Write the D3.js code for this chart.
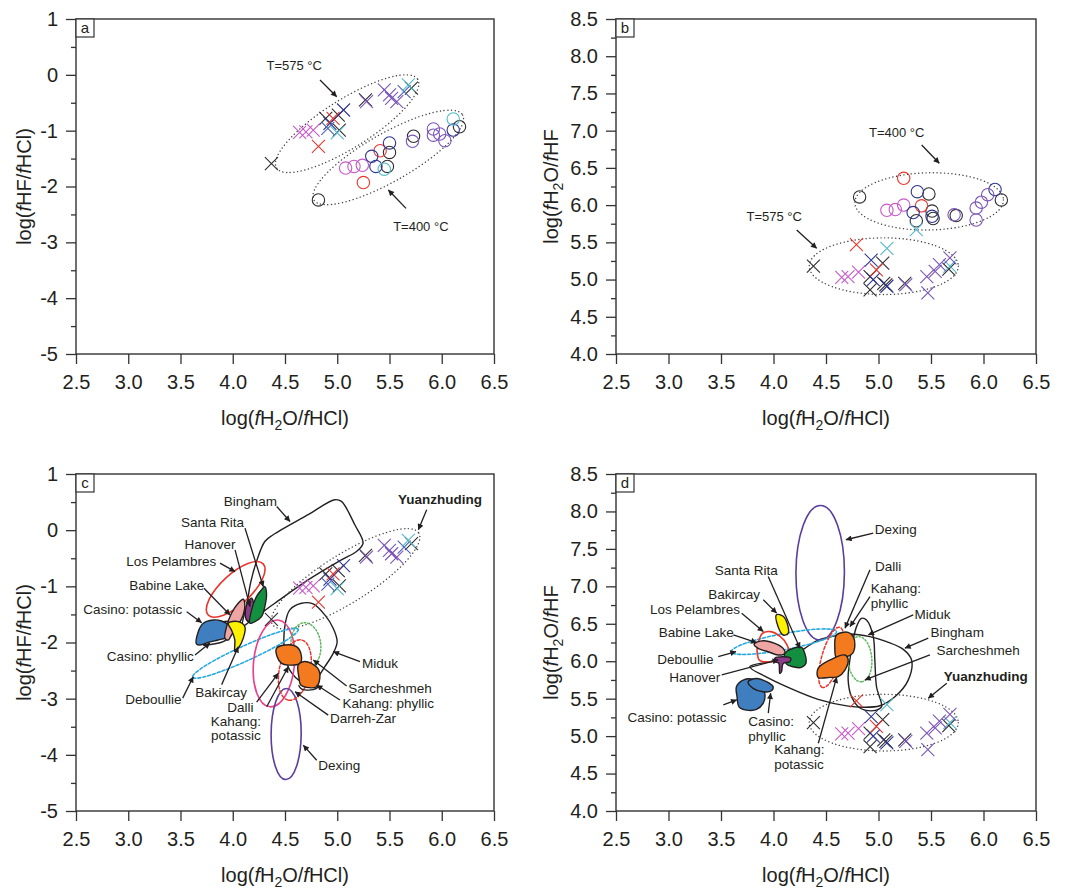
<!DOCTYPE html>
<html><head><meta charset="utf-8">
<script src="https://cdn.jsdelivr.net/npm/d3@7"></script>
<style>
body{margin:0;background:#fff;}
text{font-family:"Liberation Sans",Arial,sans-serif;}
</style></head>
<body>
<svg id="fig" width="1069" height="890"></svg>
<script>
// ---------- axis ticks ----------
const xTicks = [2.5,3.0,3.5,4.0,4.5,5.0,5.5,6.0,6.5];
const hfTicks = [-5,-4,-3,-2,-1,0,1];
const hfMinor = [-4.5,-3.5,-2.5,-1.5,-0.5,0.5];
const ohTicks = [4.0,4.5,5.0,5.5,6.0,6.5,7.0,7.5,8.0,8.5];
const ohMinor = [4.25,4.75,5.25,5.75,6.25,6.75,7.25,7.75,8.25];

// ---------- (a) log(fHF/fHCl) vs log(fH2O/fHCl) ----------
// crosses: T = 575 °C
const aCrossBlack   = [[4.37,-1.59],[4.89,-0.78],[5.02,-0.99],[5.01,-0.72],[5.27,-0.45],[5.71,-0.24]];
const aCrossNavy    = [[4.93,-0.87],[5.06,-0.63]];
const aCrossBlue    = [[4.91,-0.96],[5.64,-0.30]];
const aCrossRed     = [[4.82,-1.28],[4.96,-0.78]];
const aCrossMagenta = [[4.64,-1.03],[4.70,-1.02],[4.77,-0.99]];
const aCrossPurple  = [[5.28,-0.48],[5.45,-0.27],[5.50,-0.36],[5.52,-0.42],[5.57,-0.48]];
const aCrossCyan    = [[5.68,-0.18],[5.00,-1.04]];
// circles: T = 400 °C
const aCircBlack   = [[4.82,-2.24],[5.48,-1.64],[5.50,-1.39],[5.73,-1.10],[6.17,-0.93]];
const aCircMagenta = [[5.08,-1.67],[5.16,-1.64],[5.24,-1.62]];
const aCircRed     = [[5.25,-1.93],[5.41,-1.36]];
const aCircNavy    = [[5.33,-1.46],[5.37,-1.64],[5.50,-1.22],[6.11,-0.99]];
const aCircCyan    = [[5.45,-1.69],[6.11,-0.79]];
const aCircPurple  = [[5.72,-1.19],[5.92,-0.97],[5.92,-1.08],[5.98,-1.06],[6.03,-1.18]];

// ---------- (b) log(fH2O/fHF) vs log(fH2O/fHCl) ----------
const bCircBlack   = [[4.82,6.11],[5.36,5.79],[5.48,6.15],[5.51,5.92],[5.52,5.82],[5.74,5.86],[6.17,6.07]];
const bCircRed     = [[5.24,6.36],[5.41,5.99]];
const bCircMagenta = [[5.08,5.93],[5.16,5.94],[5.24,6.00]];
const bCircNavy    = [[5.33,5.90],[5.37,6.18],[5.51,5.85],[6.11,6.21]];
const bCircPurple  = [[5.72,5.87],[5.93,5.80],[5.93,5.96],[5.98,6.04],[6.04,6.14]];
const bCrossBlack   = [[4.38,5.18],[4.92,5.04],[4.92,4.86],[5.04,5.22],[5.05,4.95],[5.07,4.93],[5.25,4.95],[5.67,5.14]];
const bCrossRed     = [[4.79,5.47],[4.98,5.13]];
const bCrossCyan    = [[5.08,5.42],[5.68,5.18]];
const bCrossCyanHigh = [[5.36,5.67]];
const bCrossMagenta = [[4.65,5.03],[4.71,5.04],[4.81,5.10]];
const bCrossNavy    = [[4.93,5.26],[5.08,4.91],[4.95,5.00]];
const bCrossPurple  = [[5.26,4.93],[5.47,4.82],[5.46,5.04],[5.54,5.11],[5.58,5.20],[5.68,5.29]];

// ---------- fluid fields, (c) ----------
const cBingham = [[4.094,-1.706],[4.138,-1.301],[4.170,-0.944],[4.227,-0.558],[4.307,-0.201],[4.387,-0.082],[4.721,0.275],[4.976,0.542],[5.040,0.512],[5.168,0.096],[5.247,-0.231],[5.184,-0.380],[5.040,-0.528],[4.721,-0.885],[4.403,-1.301],[4.180,-1.599]];
const cMiduk = [[4.498,-2.193],[4.498,-1.718],[4.546,-1.420],[4.658,-1.301],[4.769,-1.313],[4.881,-1.509],[4.961,-1.747],[4.999,-1.985],[4.961,-2.193],[4.881,-2.431],[4.817,-2.609],[4.753,-2.728],[4.658,-2.699],[4.546,-2.491]];
const cCasinoPhyllic = [[3.718,-2.045],[3.813,-2.027],[3.909,-1.985],[3.988,-1.866],[4.004,-1.718],[3.972,-1.628],[3.877,-1.646],[3.781,-1.718],[3.718,-1.866]];
const cCasinoPotassic = [[3.654,-2.027],[3.670,-1.807],[3.718,-1.658],[3.813,-1.599],[3.893,-1.617],[3.957,-1.688],[3.972,-1.807],[3.941,-1.908],[3.861,-1.955],[3.765,-1.997],[3.686,-2.045]];
const cBabine = [[3.925,-1.926],[3.941,-1.718],[3.988,-1.480],[4.052,-1.301],[4.100,-1.230],[4.116,-1.331],[4.100,-1.509],[4.052,-1.688],[3.988,-1.866],[3.957,-1.955]];
const cHanover = [[4.132,-1.599],[4.122,-1.420],[4.148,-1.272],[4.180,-1.212],[4.202,-1.331],[4.196,-1.509],[4.164,-1.628]];
const cSantaRita = [[4.164,-1.658],[4.180,-1.420],[4.227,-1.182],[4.275,-1.063],[4.307,-1.004],[4.323,-1.123],[4.307,-1.361],[4.275,-1.539],[4.212,-1.628]];
const cBakircay = [[3.957,-1.658],[4.052,-1.628],[4.116,-1.718],[4.100,-1.926],[4.052,-2.104],[4.020,-2.163],[4.020,-1.955],[3.988,-1.777]];
const cOrangeUpper = [[4.419,-2.104],[4.498,-2.045],[4.610,-2.074],[4.658,-2.253],[4.642,-2.372],[4.530,-2.402],[4.467,-2.372],[4.425,-2.253]];
const cOrangeLower = [[4.626,-2.401],[4.674,-2.342],[4.753,-2.372],[4.824,-2.491],[4.833,-2.639],[4.801,-2.788],[4.706,-2.800],[4.651,-2.758],[4.632,-2.609]];
const cDarrehZar = [[4.63,-2.76],[4.66,-2.83],[4.77,-2.84],[4.82,-2.79]];
// elliptical fields: two ends of the long axis, and minor/major ratio
const cYuanzhuding = {a:[4.38,-1.68], b:[5.78,-0.05], r:0.28};
const cLosPelambres = {a:[3.765,-1.509], b:[4.291,-0.60], r:0.40};
const cDeboullie = {a:[3.616,-2.62], b:[4.626,-1.765], r:0.13};
const cMagentaField = {a:[4.435,-1.599], b:[4.355,-3.145], r:0.47};
const cGreenDotted = {a:[4.68,-1.65], b:[4.72,-2.45], r:0.66};
const cRedDashed = {a:[4.658,-1.955], b:[4.53,-3.026], r:0.50};
const cDexing = {a:[4.514,-2.818], b:[4.508,-4.44], r:0.33};

// ---------- fluid fields, (d) ----------
const dBingham = [[3.774,5.926],[3.965,5.993],[4.187,6.060],[4.298,6.172],[4.425,6.283],[4.552,6.328],[4.727,6.364],[4.918,6.328],[5.077,6.261],[5.236,6.158],[5.315,6.016],[5.283,5.748],[5.156,5.525],[5.013,5.405],[4.85,5.385],[4.711,5.40],[4.425,5.49],[4.139,5.65],[3.917,5.80]];
const dMiduk = [[4.791,6.462],[4.838,6.573],[4.886,6.551],[4.950,6.328],[4.965,6.016],[4.981,5.659],[5.029,5.391],[4.981,5.347],[4.870,5.347],[4.807,5.391],[4.743,5.525],[4.711,5.748],[4.727,6.016]];
const dLosPelambres = [[3.853,6.239],[3.895,6.372],[3.971,6.395],[4.066,6.328],[4.130,6.216],[4.149,6.083],[4.092,6.007],[3.965,5.993],[3.869,6.007],[3.844,6.127]];
const dBabine = [[3.815,6.230],[3.901,6.274],[4.012,6.239],[4.092,6.172],[4.108,6.105],[4.044,6.083],[3.949,6.127],[3.853,6.172]];
const dHanover = [[4.012,6.038],[4.092,6.060],[4.165,6.038],[4.155,5.993],[4.092,5.971],[4.076,5.859],[4.060,5.837],[4.050,5.971],[4.019,5.993]];
const dSantaRita = [[4.108,6.105],[4.187,6.172],[4.266,6.185],[4.298,6.105],[4.308,5.971],[4.266,5.917],[4.187,5.926],[4.124,5.962]];
const dBakircay = [[4.028,6.62],[4.092,6.60],[4.139,6.46],[4.139,6.37],[4.092,6.35],[4.044,6.46]];
const dCasinoPotassic = [[3.647,5.659],[3.711,5.748],[3.806,5.757],[3.869,5.681],[3.917,5.570],[3.901,5.436],[3.838,5.356],[3.742,5.347],[3.672,5.391],[3.653,5.525]];
const dCasinoPhyllic = [[3.758,5.726],[3.838,5.770],[3.933,5.726],[3.996,5.659],[3.981,5.605],[3.901,5.592],[3.806,5.637]];
const dOrangeUpper = [[4.600,6.350],[4.711,6.386],[4.759,6.328],[4.775,6.216],[4.753,6.105],[4.695,6.060],[4.600,6.047],[4.584,6.172]];
const dOrangeLower = [[4.425,5.904],[4.537,6.016],[4.680,6.083],[4.711,6.016],[4.680,5.882],[4.616,5.793],[4.537,5.784],[4.425,5.784]];
const dDexing = {a:[4.448,8.08], b:[4.441,6.283], r:0.36};
const dDeboullie = {a:[3.599,6.127], b:[4.600,6.395], r:0.15};
const dGreenDotted = {a:[4.807,6.328], b:[4.838,5.726], r:0.53};
const dRedDashed = {a:[4.632,6.453], b:[4.467,5.650], r:0.30};
const bT400 = {a:[4.775,6.03], b:[6.19,6.07], r:0.385};
const bT575 = {a:[4.34,5.18], b:[5.76,5.18], r:0.38};
const aT575 = {a:[4.42,-1.67], b:[5.77,-0.08], r:0.29};
const aT400 = {a:[4.776,-2.24], b:[6.20,-0.72], r:0.28};

// ---------- annotations: [text, x, y, arrow from x, y, to x, y, flags] ----------
const aNotes = [["T=575 °C",4.588,0.163,4.835,-0.093,4.995,-0.392],["T=400 °C",5.80,-2.72,5.658,-2.391,5.489,-2.063]];
const bNotes = [["T=400 °C",5.173,6.973,5.411,6.807,5.579,6.562],["T=575 °C",4.007,5.844,4.221,5.666,4.411,5.420]];
const cNotes = [
 ["Bingham",4.168,0.511,4.421,0.422,4.548,0.155],
 ["Santa Rita",3.806,0.137,4.117,0.037,4.292,-1.005],
 ["Hanover",3.782,-0.248,4.022,-0.350,4.165,-1.361],
 ["Los Pelambres",3.412,-0.559,3.878,-0.587,4.022,-0.737],
 ["Babine Lake",3.368,-0.987,3.725,-1.033,3.974,-1.509],
 ["Casino: potassic",3.043,-1.408,3.559,-1.451,3.703,-1.647],
 ["Casino: phyllic",3.210,-2.253,3.639,-2.223,3.782,-2.009],
 ["Deboullie",3.240,-3.008,3.521,-2.990,3.622,-2.610],
 ["Bakircay",3.888,-2.885,3.894,-2.750,4.053,-2.075],
 ["Dalli",4.072,-3.155,4.229,-3.060,4.436,-2.549],
 ["Kahang:\npotassic",4.03,-3.395,4.325,-3.145,4.532,-2.431],
 ["Miduk",5.409,-2.371,5.218,-2.342,4.962,-2.164],
 ["Sarcheshmeh",5.505,-2.817,5.090,-2.776,4.771,-2.312],
 ["Kahang: phyllic",5.489,-3.084,5.026,-3.025,4.803,-2.758],
 ["Darreh-Zar",5.246,-3.352,4.914,-3.293,4.596,-2.877],
 ["Dexing",5.019,-4.185,4.803,-4.096,4.675,-3.828],
 ["Yuanzhuding",5.983,0.542,5.856,0.363,5.776,0.007,"b"]
];
const dNotes = [
 ["Dexing",5.165,7.765,4.950,7.711,4.690,7.622],
 ["Santa Rita",3.740,7.208,3.950,7.131,4.252,6.174],
 ["Dalli",5.092,7.274,4.919,7.221,4.681,6.442],
 ["Kahang:\nphyllic",4.926,6.976,4.919,6.864,4.729,6.463,"s"],
 ["Bakircay",3.626,6.900,3.903,6.820,4.030,6.642],
 ["Los Pelambres",3.252,6.696,3.697,6.642,3.903,6.396],
 ["Miduk",5.514,6.629,5.331,6.619,4.903,6.352],
 ["Babine Lake",3.265,6.383,3.617,6.352,3.840,6.249],
 ["Bingham",5.750,6.383,5.474,6.308,5.252,6.174],
 ["Sarcheshmeh",5.948,6.142,5.490,6.085,4.871,5.751],
 ["Deboullie",3.160,6.027,3.474,6.062,3.643,6.129],
 ["Hanover",3.250,5.781,3.507,5.818,4.046,6.018],
 ["Yuanzhuding",6.022,5.804,5.650,5.707,5.474,5.506,"b"],
 ["Casino: potassic",3.081,5.252,3.522,5.417,3.650,5.483],
 ["Casino:\nphyllic",3.760,5.193,3.950,5.306,3.973,5.573,"s"],
 ["Kahang:\npotassic",4.008,4.824,4.427,4.905,4.602,5.787,"s"]
];

// ---------- styles ----------
const COL = {black:"#2d2d2d", navy:"#2f3590", blue:"#4d63b6", red:"#e8362c", magenta:"#c65ac9", purple:"#7b55b8", cyan:"#52b9cc"};
const INK = "#231f20";

const svg = d3.select("#fig");
svg.append("rect").attr("width",1069).attr("height",890).attr("fill","#fff");
svg.append("defs").append("marker").attr("id","ah").attr("viewBox","0 0 10 10")
  .attr("refX",9.5).attr("refY",5).attr("markerWidth",8).attr("markerHeight",6)
  .attr("markerUnits","userSpaceOnUse").attr("orient","auto")
  .append("path").attr("d","M0,0L10,5L0,10Z").attr("fill",INK);

function title(t, parts) {
  parts.forEach(p => {
    const ts = t.append("tspan");
    if (p.startsWith("*")) ts.text(p.slice(1)).style("font-style","italic");
    else if (p.startsWith("_")) ts.text(p.slice(1)).attr("font-size",14).attr("dy",5);
    else if (p.startsWith("^")) ts.text(p.slice(1)).attr("dy",-5);
    else ts.text(p);
  });
}

function panel(box, yDom, yMajor, yMinor, yFmt, letter, yParts, yTitleX) {
  const x = d3.scaleLinear().domain([2.5,6.5]).range([box.l, box.r]);
  const y = d3.scaleLinear().domain(yDom).range([box.b, box.t]);
  const g = svg.append("g");
  const ax = g.append("g").attr("transform",`translate(0,${box.b})`)
    .call(d3.axisBottom(x).tickValues(xTicks).tickSize(10).tickPadding(11).tickFormat(d => d.toFixed(1)));
  const ay = g.append("g").attr("transform",`translate(${box.l},0)`)
    .call(d3.axisLeft(y).tickValues(yMajor).tickSize(10).tickPadding(8).tickFormat(yFmt));
  const am = g.append("g").attr("transform",`translate(${box.l},0)`)
    .call(d3.axisLeft(y).tickValues(yMinor).tickSize(5).tickFormat(""));
  [ax,ay,am].forEach(a => {
    a.select(".domain").remove();
    a.selectAll("line").attr("stroke","#333").attr("stroke-width",1.3);
    a.selectAll("text").attr("font-size",20).attr("fill",INK).attr("font-family","Liberation Sans, Arial, sans-serif");
  });
  g.append("rect").attr("x",box.l).attr("y",box.t).attr("width",box.r-box.l).attr("height",box.b-box.t)
    .attr("fill","none").attr("stroke","#333").attr("stroke-width",1.4);
  g.append("rect").attr("x",box.l).attr("y",box.t).attr("width",18).attr("height",18)
    .attr("fill","#fff").attr("stroke","#333").attr("stroke-width",1.2);
  g.append("text").attr("x",box.l+9).attr("y",box.t+14).attr("text-anchor","middle")
    .attr("font-size",15).attr("fill",INK).text(letter);
  const xt = g.append("text").attr("x",(box.l+box.r)/2).attr("y",box.b+71)
    .attr("text-anchor","middle").attr("font-size",20).attr("fill",INK);
  title(xt, ["log(","*f","H","_2","^O/","*f","HCl)"]);
  const yt = g.append("text").attr("transform",`translate(${yTitleX},${(box.t+box.b)/2}) rotate(-90)`)
    .attr("text-anchor","middle").attr("dy","0.35em").attr("font-size",20).attr("fill",INK);
  title(yt, yParts);
  const layer = g.append("g");
  return {x, y, g: layer};
}

function crosses(P, pts, col) {
  P.g.append("g").selectAll("path").data(pts).join("path")
    .attr("d","M-6.5,-6.5L6.5,6.5M-6.5,6.5L6.5,-6.5")
    .attr("transform",d=>`translate(${P.x(d[0])},${P.y(d[1])})`)
    .attr("stroke",col).attr("stroke-width",1.1).attr("fill","none");
}
function circles(P, pts, col) {
  P.g.append("g").selectAll("circle").data(pts).join("circle")
    .attr("cx",d=>P.x(d[0])).attr("cy",d=>P.y(d[1])).attr("r",6.2)
    .attr("stroke",col).attr("stroke-width",1.1).attr("fill","none");
}
function ellipse(P, e, st) {
  const p1 = [P.x(e.a[0]), P.y(e.a[1])], p2 = [P.x(e.b[0]), P.y(e.b[1])];
  const cx = (p1[0]+p2[0])/2, cy = (p1[1]+p2[1])/2;
  const rx = Math.hypot(p2[0]-p1[0], p2[1]-p1[1])/2;
  const ang = Math.atan2(p2[1]-p1[1], p2[0]-p1[0])*180/Math.PI;
  P.g.append("ellipse").attr("cx",cx).attr("cy",cy).attr("rx",rx).attr("ry",rx*e.r)
    .attr("transform",`rotate(${ang},${cx},${cy})`)
    .attr("fill","none").attr("stroke",st.c).attr("stroke-width",st.w||1.4)
    .attr("stroke-dasharray",st.d||null).attr("stroke-linecap","round");
}
function field(P, pts, st) {
  const line = d3.line().x(d=>P.x(d[0])).y(d=>P.y(d[1]))
    .curve(st.open ? d3.curveCatmullRom.alpha(0.5) : d3.curveCatmullRomClosed.alpha(0.5));
  P.g.append("path").attr("d",line(pts)).attr("fill",st.f||"none")
    .attr("stroke",st.c||INK).attr("stroke-width",st.w||1.4)
    .attr("stroke-dasharray",st.d||null).attr("stroke-linejoin","round");
}
function notes(P, list, size) {
  list.forEach(n => {
    const [txt, tx, ty, x1, y1, x2, y2, flag=""] = n;
    const t = P.g.append("text").attr("x",P.x(tx)).attr("y",P.y(ty))
      .attr("text-anchor", flag.includes("s") ? "start" : "middle")
      .attr("font-size",size).attr("fill",INK)
      .attr("font-weight", flag.includes("b") ? "bold" : null);
    txt.split("\n").forEach((l,i) => t.append("tspan").attr("x",P.x(tx)).attr("dy", i ? "1.1em" : "0.35em").text(l));
    P.g.append("line").attr("x1",P.x(x1)).attr("y1",P.y(y1)).attr("x2",P.x(x2)).attr("y2",P.y(y2))
      .attr("stroke",INK).attr("stroke-width",1.3).attr("marker-end","url(#ah)");
  });
}

const DOT = {c:"#444", w:1.4, d:"0.1,3.6"};
const fmtInt = d => String(d), fmt1 = d => d.toFixed(1);
const hfTitle = ["log(","*f","HF/","*f","HCl)"];
const ohTitle = ["log(","*f","H","_2","^O/","*f","HF"];

// ---------- (a) ----------
const A = panel({l:76,r:494,t:19,b:354}, [-5,1], hfTicks, hfMinor, fmtInt, "a", hfTitle, 24);
ellipse(A, aT575, DOT);
ellipse(A, aT400, DOT);
crosses(A, aCrossBlack, COL.black); crosses(A, aCrossNavy, COL.navy); crosses(A, aCrossBlue, COL.blue);
crosses(A, aCrossRed, COL.red); crosses(A, aCrossMagenta, COL.magenta); crosses(A, aCrossPurple, COL.purple);
crosses(A, aCrossCyan, COL.cyan);
circles(A, aCircBlack, COL.black); circles(A, aCircMagenta, COL.magenta); circles(A, aCircRed, COL.red);
circles(A, aCircNavy, COL.navy); circles(A, aCircCyan, COL.cyan); circles(A, aCircPurple, COL.purple);
notes(A, aNotes, 13);

// ---------- (b) ----------
const B = panel({l:616,r:1036,t:19,b:354}, [4,8.5], ohTicks, ohMinor, fmt1, "b", ohTitle, 551);
ellipse(B, bT400, DOT);
ellipse(B, bT575, DOT);
circles(B, bCircBlack, COL.black); circles(B, bCircRed, COL.red); circles(B, bCircMagenta, COL.magenta);
circles(B, bCircNavy, COL.navy); circles(B, bCircPurple, COL.purple);
crosses(B, bCrossBlack, COL.black); crosses(B, bCrossRed, COL.red); crosses(B, bCrossCyan, COL.cyan);
crosses(B, bCrossCyanHigh, COL.cyan);
crosses(B, bCrossMagenta, COL.magenta); crosses(B, bCrossNavy, COL.navy); crosses(B, bCrossPurple, COL.purple);
notes(B, bNotes, 13);

const FILL = {casino:"#3f7fc0", babine:"#eea5a4", hanover:"#8f3b8c", santa:"#13903f", bakircay:"#fff200", orange:"#f47a20"};

// ---------- (c) ----------
const C = panel({l:76,r:494,t:474,b:811}, [-5,1], hfTicks, hfMinor, fmtInt, "c", hfTitle, 24);
field(C, cBingham, {});
field(C, cMiduk, {});
ellipse(C, cYuanzhuding, DOT);
ellipse(C, cDeboullie, {c:"#27a9df", w:1.6, d:"3,2"});
ellipse(C, cMagentaField, {c:"#e83e8c", w:1.6});
ellipse(C, cDexing, {c:"#5a3d9c", w:1.6});
ellipse(C, cGreenDotted, {c:"#5cb85c", w:1.5, d:"1.5,2"});
ellipse(C, cRedDashed, {c:"#e8362c", w:1.5, d:"3,2"});
ellipse(C, cLosPelambres, {c:"#e8362c", w:1.6});
field(C, cCasinoPhyllic, {f:"#fff"});
field(C, cCasinoPotassic, {f:FILL.casino});
field(C, cBabine, {f:FILL.babine});
field(C, cHanover, {f:FILL.hanover});
field(C, cSantaRita, {f:FILL.santa});
field(C, cBakircay, {f:FILL.bakircay});
field(C, cDarrehZar, {open:true});
field(C, cOrangeUpper, {f:FILL.orange});
field(C, cOrangeLower, {f:FILL.orange});
crosses(C, aCrossBlack, COL.black); crosses(C, aCrossNavy, COL.navy); crosses(C, aCrossBlue, COL.blue);
crosses(C, aCrossRed, COL.red); crosses(C, aCrossMagenta, COL.magenta); crosses(C, aCrossPurple, COL.purple);
crosses(C, aCrossCyan, COL.cyan);
notes(C, cNotes, 13.5);

// ---------- (d) ----------
const D = panel({l:616,r:1036,t:474,b:811}, [4,8.5], ohTicks, ohMinor, fmt1, "d", ohTitle, 551);
field(D, dBingham, {});
field(D, dMiduk, {});
ellipse(D, bT575, DOT);
ellipse(D, dDexing, {c:"#5a3d9c", w:1.6});
ellipse(D, dDeboullie, {c:"#27a9df", w:1.6, d:"3,2"});
ellipse(D, dGreenDotted, {c:"#5cb85c", w:1.5, d:"1.5,2"});
ellipse(D, dRedDashed, {c:"#e8362c", w:1.5, d:"3,2"});
field(D, dLosPelambres, {c:"#e8362c", w:1.6});
field(D, dCasinoPotassic, {f:FILL.casino});
field(D, dCasinoPhyllic, {f:FILL.casino});
field(D, dBabine, {f:FILL.babine});
field(D, dSantaRita, {f:FILL.santa});
field(D, dHanover, {f:FILL.hanover});
field(D, dBakircay, {f:FILL.bakircay});
field(D, dOrangeUpper, {f:FILL.orange});
field(D, dOrangeLower, {f:FILL.orange});
crosses(D, bCrossBlack, COL.black); crosses(D, bCrossRed, COL.red); crosses(D, bCrossCyan, COL.cyan);
crosses(D, bCrossMagenta, COL.magenta); crosses(D, bCrossNavy, COL.navy); crosses(D, bCrossPurple, COL.purple);
notes(D, dNotes, 13.5);
</script>
</body></html>
